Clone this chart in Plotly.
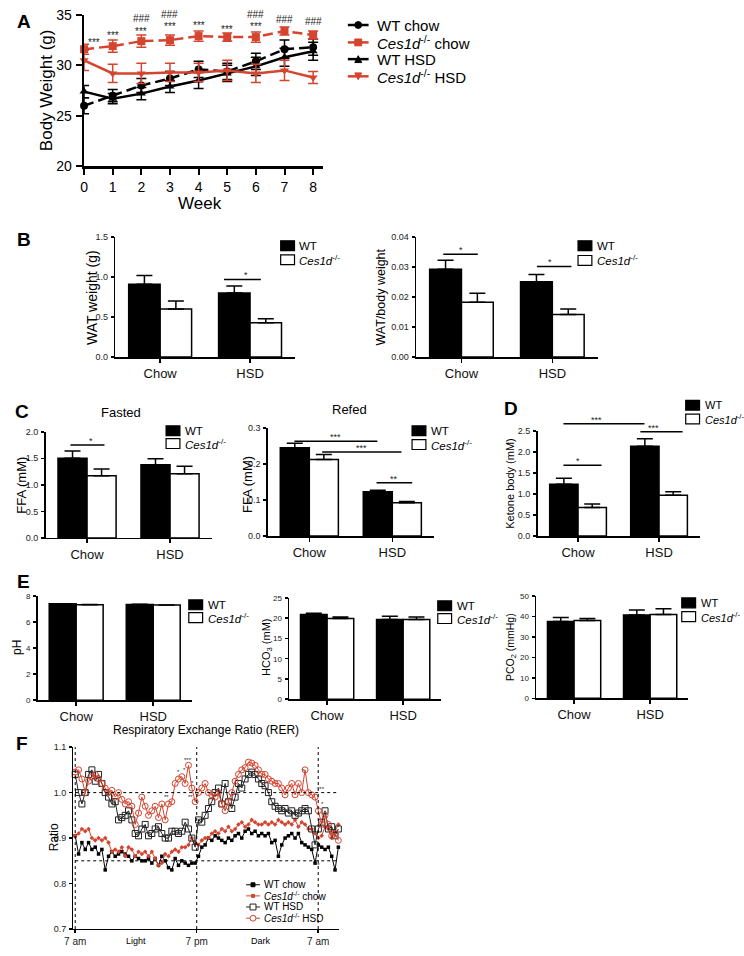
import plotly.graph_objects as go

W, H = 744, 956
RED = "#D4442E"
FONT = "Liberation Sans, Arial, Helvetica, sans-serif"
KO = "<i>Ces1d</i><sup>-/-</sup>"

# ---------------- Panel A: body weight ----------------
weeks = [0, 1, 2, 3, 4, 5, 6, 7, 8]
bw_wt_chow = [26.0, 27.0, 28.0, 28.7, 29.6, 29.4, 30.4, 31.6, 31.8]
bw_wt_chow_sem = [0.8, 0.6, 0.7, 0.7, 0.8, 0.8, 0.8, 0.9, 0.8]
bw_ko_chow = [31.6, 31.9, 32.4, 32.5, 32.9, 32.8, 32.8, 33.4, 33.0]
bw_ko_chow_sem = [0.5, 0.6, 0.6, 0.5, 0.5, 0.4, 0.5, 0.4, 0.4]
bw_wt_hsd = [27.4, 26.7, 27.2, 27.9, 28.5, 29.2, 29.9, 30.8, 31.4]
bw_wt_hsd_sem = [0.6, 0.5, 0.6, 0.6, 0.8, 0.8, 0.9, 0.9, 0.9]
bw_ko_hsd = [30.5, 29.2, 29.2, 29.3, 29.3, 29.5, 29.2, 29.5, 28.8]
bw_ko_hsd_sem = [1.0, 0.9, 1.0, 0.9, 0.9, 1.0, 0.9, 1.0, 0.6]
star_weeks = [0.35, 1, 2, 3, 4, 5, 6]
star_y = [32.3, 33.0, 33.4, 33.8, 33.9, 33.6, 33.8]
hash_weeks = [2, 3, 4, 5, 6, 7, 8]
hash_y = [34.6, 35.0, 35.2, 35.2, 35.0, 34.5, 34.3]

# ---------------- Bar panels ----------------
groups = ["Chow", "HSD"]
wat_wt = [0.91, 0.80]
wat_wt_sem = [0.11, 0.09]
wat_ko = [0.60, 0.43]
wat_ko_sem = [0.10, 0.05]
watbw_wt = [0.0293, 0.0251]
watbw_wt_sem = [0.0030, 0.0024]
watbw_ko = [0.0183, 0.0142]
watbw_ko_sem = [0.0030, 0.0018]
ffa_fasted_wt = [1.50, 1.38]
ffa_fasted_wt_sem = [0.14, 0.11]
ffa_fasted_ko = [1.17, 1.21]
ffa_fasted_ko_sem = [0.13, 0.14]
ffa_refed_wt = [0.245, 0.123]
ffa_refed_wt_sem = [0.012, 0.004]
ffa_refed_ko = [0.212, 0.092]
ffa_refed_ko_sem = [0.014, 0.004]
ketone_wt = [1.23, 2.13]
ketone_wt_sem = [0.14, 0.18]
ketone_ko = [0.68, 0.97]
ketone_ko_sem = [0.08, 0.08]
ph_wt = [7.40, 7.35]
ph_wt_sem = [0.01, 0.01]
ph_ko = [7.33, 7.30]
ph_ko_sem = [0.01, 0.01]
hco3_wt = [20.9, 19.7]
hco3_wt_sem = [0.3, 0.8]
hco3_ko = [19.9, 19.7]
hco3_ko_sem = [0.4, 0.6]
pco2_wt = [37.5, 40.7]
pco2_wt_sem = [2.0, 2.5]
pco2_ko = [38.0, 41.0]
pco2_ko_sem = [1.0, 2.8]

# significance brackets: (x0, x1, y, label) in category / data units
sig_b1 = [(0.71, 1.12, 0.97, "*")]
sig_b2 = [(-0.2, 0.18, 0.0343, "*"), (0.83, 1.21, 0.0302, "*")]
sig_c1 = [(-0.2, 0.21, 1.75, "*")]
sig_c2 = [(-0.18, 0.82, 0.263, "***"), (0.155, 1.11, 0.233, "***"), (0.81, 1.24, 0.148, "**")]
sig_d = [(-0.18, 0.82, 2.67, "***"), (0.77, 1.29, 2.48, "***"), (-0.18, 0.29, 1.68, "*")]

# ---------------- Panel F: RER ----------------
rer_hours = [round(i * 0.329, 3) for i in range(80)]
rer_wt_chow = [0.905, 0.865, 0.89, 0.875, 0.89, 0.875, 0.88, 0.865, 0.875, 0.83,
               0.86, 0.87, 0.86, 0.865, 0.87, 0.865, 0.86, 0.85, 0.86, 0.855,
               0.85, 0.85, 0.855, 0.845, 0.855, 0.84, 0.86, 0.85, 0.835, 0.83,
               0.855, 0.84, 0.85, 0.845, 0.84, 0.845, 0.845, 0.86, 0.88, 0.885,
               0.9, 0.895, 0.905, 0.9, 0.895, 0.89, 0.9, 0.895, 0.905, 0.91,
               0.9, 0.915, 0.92, 0.91, 0.915, 0.905, 0.91, 0.905, 0.91, 0.89,
               0.895, 0.86, 0.885, 0.9, 0.905, 0.91, 0.9, 0.91, 0.89, 0.885,
               0.88, 0.875, 0.845, 0.885, 0.88, 0.875, 0.88, 0.86, 0.83, 0.88]
rer_ko_chow = [0.905, 0.91, 0.92, 0.915, 0.92, 0.9, 0.895, 0.9, 0.895, 0.9,
               0.89, 0.87, 0.875, 0.87, 0.88, 0.86, 0.88, 0.875, 0.86, 0.87,
               0.865, 0.87, 0.86, 0.87, 0.855, 0.84, 0.845, 0.865, 0.86, 0.87,
               0.875, 0.87, 0.88, 0.88, 0.885, 0.9, 0.89, 0.885, 0.895, 0.9,
               0.9, 0.91, 0.915, 0.91, 0.92, 0.915, 0.925, 0.915, 0.92, 0.93,
               0.935, 0.925, 0.93, 0.94, 0.935, 0.93, 0.93, 0.935, 0.93, 0.935,
               0.93, 0.94, 0.935, 0.93, 0.935, 0.93, 0.94, 0.925, 0.935, 0.93,
               0.92, 0.92, 0.91, 0.9, 0.905, 0.925, 0.92, 0.9, 0.915, 0.93]
rer_wt_hsd = [1.04, 1.0, 0.975, 1.0, 1.04, 1.05, 1.025, 1.04, 1.02, 1.0,
              0.99, 0.975, 0.98, 0.94, 0.945, 0.95, 0.96, 0.94, 0.91, 0.905,
              0.92, 0.93, 0.905, 0.91, 0.92, 0.925, 0.91, 0.9, 0.9, 0.915,
              0.915, 0.91, 0.915, 0.935, 0.92, 0.9, 0.88, 0.94, 0.935, 0.95,
              0.965, 0.98, 1.0, 1.01, 0.975, 1.02, 0.98, 0.965, 0.99, 1.02,
              1.01, 1.03, 1.04, 1.045, 1.04, 1.03, 1.02, 1.015, 1.0, 0.98,
              0.97, 0.965, 0.96, 0.965, 0.955, 0.96, 0.95, 0.955, 0.96, 0.965,
              0.96, 0.92, 0.885, 0.92, 0.935, 0.96, 0.92, 0.925, 0.905, 0.92]
rer_ko_hsd = [1.045, 1.05, 1.03, 1.0, 1.025, 1.035, 1.04, 1.03, 1.02, 1.01,
              1.0, 1.005, 0.99, 1.0, 0.985, 0.975, 0.98, 0.97, 0.93, 0.955,
              0.99, 0.97, 0.95, 0.96, 0.97, 0.945, 0.975, 0.94, 0.975, 0.98,
              1.02, 1.03, 1.035, 1.02, 1.06, 1.01, 0.98, 1.0, 1.01, 1.02,
              1.0, 0.995, 0.99, 1.0, 0.975, 0.96, 0.98, 1.0, 1.025, 1.04,
              1.05, 1.055, 1.067, 1.065, 1.06, 1.05, 1.04, 1.04, 1.03, 1.025,
              1.02, 1.02, 1.01, 0.995, 1.01, 1.02, 0.995, 1.02, 1.0, 1.05,
              1.0, 0.995, 0.99, 0.96, 0.93, 0.95, 0.93, 0.905, 0.91, 0.895]
rer_marks = [(11.1, 1.071, "***"), (10.2, 1.046, "*"), (10.75, 1.05, "*"), (11.6, 1.02, "*"),
             (9.05, 0.99, "**"), (11.4, 0.99, "**"), (22.5, 1.047, "*"), (24.3, 1.008, "***"),
             (24.45, 0.974, "*"), (23.9, 0.84, "**"), (25.75, 0.83, "*")]

# ---------------- geometry (pixels) ----------------
GEO = {
    "A": dict(n=1, x=(76, 318), y=(7, 161), xr=(0, 8.35), yr=(20, 35)),
    "B1": dict(n=2, x=(107.5, 289.5), y=(233, 355), xr=(-0.5, 1.5), yr=(0, 1.5)),
    "B2": dict(n=3, x=(412, 596), y=(233, 355), xr=(-0.5, 1.5), yr=(0, 0.04)),
    "C1": dict(n=4, x=(37, 205), y=(431, 539), xr=(-0.5, 1.5), yr=(0, 2.0)),
    "C2": dict(n=5, x=(262, 430), y=(427, 537), xr=(-0.5, 1.5), yr=(0, 0.3)),
    "D": dict(n=6, x=(535, 699), y=(430, 537), xr=(-0.5, 1.5), yr=(0, 2.5)),
    "E1": dict(n=7, x=(29, 185), y=(598, 704), xr=(-0.5, 1.5), yr=(0, 8)),
    "E2": dict(n=8, x=(283.5, 437.5), y=(600, 703), xr=(-0.5, 1.5), yr=(0, 25)),
    "E3": dict(n=9, x=(533.5, 687.5), y=(598, 702), xr=(-0.5, 1.5), yr=(0, 50)),
    "F": dict(n=10, x=(65, 334), y=(751.7, 936.7), xr=(-0.2, 26.05), yr=(0.7, 1.1)),
}


def names(n):
    if n == 1:
        return "xaxis", "yaxis", "x", "y"
    return f"xaxis{n}", f"yaxis{n}", f"x{n}", f"y{n}"


def xp(g, v):
    l, r = g["x"]
    lo, hi = g["xr"]
    return (l + (v - lo) / (hi - lo) * (r - l)) / W


def yp(g, v):
    t, b = g["y"]
    lo, hi = g["yr"]
    return 1 - (b - (v - lo) / (hi - lo) * (b - t)) / H


fig = go.Figure()
layout = {}
shapes = []
ann = []


def text(x, y, s, size, bold=False, angle=0, xanchor="center", yanchor="middle", color="black"):
    ann.append(dict(x=x / W, y=1 - y / H, xref="paper", yref="paper", text=f"<b>{s}</b>" if bold else s,
                    showarrow=False, textangle=angle, xanchor=xanchor, yanchor=yanchor,
                    font=dict(family=FONT, size=size, color=color)))


# axes
for key, g in GEO.items():
    xk, yk, xa, ya = names(g["n"])
    layout[xk] = dict(domain=[g["x"][0] / W, g["x"][1] / W], range=list(g["xr"]), anchor=ya,
                      showgrid=False, zeroline=False, showline=True, linecolor="black",
                      linewidth=1.5, ticks="outside", ticklen=4, tickwidth=1.5, tickcolor="black",
                      tickfont=dict(family=FONT, size=13, color="#111"), fixedrange=True)
    layout[yk] = dict(domain=[1 - g["y"][1] / H, 1 - g["y"][0] / H], range=list(g["yr"]), anchor=xa,
                      showgrid=False, zeroline=False, showline=True, linecolor="black",
                      linewidth=1.5, ticks="outside", ticklen=3, tickwidth=1.5, tickcolor="black",
                      ticklabelstandoff=1,
                      tickfont=dict(family=FONT, size=9, color="#222"), fixedrange=True)

# ---- Panel A ----
layout["xaxis"].update(tickmode="array", tickvals=weeks, linewidth=2.5, tickwidth=2, ticklen=6,
                       tickfont=dict(family=FONT, size=14, color="black"))
layout["yaxis"].update(tickvals=[20, 25, 30, 35], linewidth=2.5, tickwidth=2, ticklen=6,
                       tickfont=dict(family=FONT, size=14, color="black"))

a_series = [
    (bw_wt_chow, bw_wt_chow_sem, "black", "10px,5px", "circle"),
    (bw_wt_hsd, bw_wt_hsd_sem, "black", "solid", "triangle-up"),
    (bw_ko_hsd, bw_ko_hsd_sem, RED, "solid", "triangle-down"),
    (bw_ko_chow, bw_ko_chow_sem, RED, "10px,5px", "square"),
]
for vals, sem, col, dash, sym in a_series:
    fig.add_trace(go.Scatter(x=weeks, y=vals, mode="lines+markers", xaxis="x", yaxis="y",
                             line=dict(color=col, width=2.5, dash=dash),
                             marker=dict(symbol=sym, size=8, color=col),
                             error_y=dict(type="data", array=sem, color=col, thickness=1.5, width=5),
                             cliponaxis=False, showlegend=False))
for w, yv in zip(star_weeks, star_y):
    ann.append(dict(x=w, y=yv, xref="x", yref="y", text="***", showarrow=False,
                    font=dict(family=FONT, size=10, color="#222")))
for w, yv in zip(hash_weeks, hash_y):
    ann.append(dict(x=w, y=yv, xref="x", yref="y", text="###", showarrow=False,
                    font=dict(family=FONT, size=10, color="#222")))

text(38, 84, "Body Weight (g)", 17, angle=-90)
text(193, 199, "Week", 17)


def key(xl, xr, y, color, dash, symbol, size, filled, lw):
    shapes.append(dict(type="line", xref="paper", yref="paper", x0=xl / W, x1=xr / W,
                       y0=1 - y / H, y1=1 - y / H, line=dict(color=color, width=lw, dash=dash)))
    cx = (xl + xr) / 2
    h = size / 2
    fill = color if filled else "white"
    if symbol == "circle":
        shapes.append(dict(type="circle", xref="paper", yref="paper", x0=(cx - h) / W, x1=(cx + h) / W,
                           y0=1 - (y + h) / H, y1=1 - (y - h) / H, fillcolor=fill,
                           line=dict(color=color, width=1)))
    elif symbol == "square":
        shapes.append(dict(type="rect", xref="paper", yref="paper", x0=(cx - h) / W, x1=(cx + h) / W,
                           y0=1 - (y + h) / H, y1=1 - (y - h) / H, fillcolor=fill,
                           line=dict(color=color, width=1)))
    else:
        s = -1 if symbol == "up" else 1
        p = (f"M {cx / W},{1 - (y + s * h) / H} L {(cx + h) / W},{1 - (y - s * h) / H} "
             f"L {(cx - h) / W},{1 - (y - s * h) / H} Z")
        shapes.append(dict(type="path", xref="paper", yref="paper", path=p, fillcolor=fill,
                           line=dict(color=color, width=1)))


# legend A
a_leg = [("WT chow", "black", "circle", 17.3),
         (KO + " chow", RED, "square", 35),
         ("WT HSD", "black", "up", 52),
         (KO + " HSD", RED, "down", 69.5)]
for lab, col, sym, yy in a_leg:
    key(343, 364, yy, col, "solid", sym, 7, True, 2.5)
    text(370, yy, lab, 15, xanchor="left")

# ---- bar panels ----
def bar_panel(g, wt, wt_sem, ko, ko_sem, dtick, fmt, sigs, leg, ytitle, ytitle_pos, ytitle_size,
              tickfont=9, catfont=13, legfont=11.5):
    xk, yk, xa, ya = names(g["n"])
    layout[xk].update(type="category", tickfont=dict(family=FONT, size=catfont, color="#111"))
    layout[yk].update(dtick=dtick, tickformat=fmt, tickfont=dict(family=FONT, size=tickfont, color="#222"))
    for vals, sem, col, og in ((wt, wt_sem, "black", "wt"), (ko, ko_sem, "white", "ko")):
        fig.add_trace(go.Bar(x=groups, y=vals, offsetgroup=og, xaxis=xa, yaxis=ya,
                             marker=dict(color=col, line=dict(color="black", width=1.5)),
                             error_y=dict(type="data", symmetric=False, array=sem,
                                          arrayminus=[0] * len(sem), color="black",
                                          thickness=1.5, width=8),
                             cliponaxis=False, showlegend=False))
    for x0, x1, yv, lab in sigs:
        shapes.append(dict(type="line", xref="paper", yref="paper", x0=xp(g, x0), x1=xp(g, x1),
                           y0=yp(g, yv), y1=yp(g, yv), line=dict(color="black", width=1.5)))
        ann.append(dict(x=(xp(g, x0) + xp(g, x1)) / 2, y=yp(g, yv), xref="paper", yref="paper",
                        text=lab, showarrow=False, yanchor="bottom", yshift=-3,
                        font=dict(family=FONT, size=9, color="#222")))
    lx, ly1, ly2 = leg
    shapes.append(dict(type="rect", xref="paper", yref="paper", x0=lx / W, x1=(lx + 14) / W,
                       y0=1 - (ly1 + 5) / H, y1=1 - (ly1 - 5) / H, fillcolor="black",
                       line=dict(color="black", width=1.2)))
    shapes.append(dict(type="rect", xref="paper", yref="paper", x0=lx / W, x1=(lx + 14) / W,
                       y0=1 - (ly2 + 5) / H, y1=1 - (ly2 - 5) / H, fillcolor="white",
                       line=dict(color="black", width=1.2)))
    text(lx + 17, ly1, "WT", legfont, xanchor="left")
    text(lx + 17, ly2, KO, legfont, xanchor="left")
    text(ytitle_pos[0], ytitle_pos[1], ytitle, ytitle_size, angle=-90)


bar_panel(GEO["B1"], wat_wt, wat_wt_sem, wat_ko, wat_ko_sem, 0.5, ".1f", sig_b1,
          (275, 241.7, 256), "WAT weight (g)", (84, 294), 14)
bar_panel(GEO["B2"], watbw_wt, watbw_wt_sem, watbw_ko, watbw_ko_sem, 0.01, ".2f", sig_b2,
          (576, 241.7, 256.7), "WAT/body weight", (377, 294), 12.5)
bar_panel(GEO["C1"], ffa_fasted_wt, ffa_fasted_wt_sem, ffa_fasted_ko, ffa_fasted_ko_sem, 0.5, ".1f",
          sig_c1, (159, 430, 443), "FFA (mM)", (13, 485), 13)
bar_panel(GEO["C2"], ffa_refed_wt, ffa_refed_wt_sem, ffa_refed_ko, ffa_refed_ko_sem, 0.1, ".1f",
          sig_c2, (408, 430, 444), "FFA (mM)", (242, 485), 13)
bar_panel(GEO["D"], ketone_wt, ketone_wt_sem, ketone_ko, ketone_ko_sem, 0.5, ".1f", sig_d,
          (685, 404, 418), "Ketone body (mM)", (507, 484), 11, legfont=11)
bar_panel(GEO["E1"], ph_wt, ph_wt_sem, ph_ko, ph_ko_sem, 2, "d", [],
          (182, 607, 620), "pH", (8, 650), 12, tickfont=8)
bar_panel(GEO["E2"], hco3_wt, hco3_wt_sem, hco3_ko, hco3_ko_sem, 5, "d", [],
          (434, 608, 621), "HCO<sub>3</sub> (mM)", (261, 650), 11, tickfont=8)
bar_panel(GEO["E3"], pco2_wt, pco2_wt_sem, pco2_ko, pco2_ko_sem, 10, "d", [],
          (681, 605, 619), "PCO<sub>2</sub> (mmHg)", (508, 650), 10.5, tickfont=8, legfont=11)

text(113, 411, "Fasted", 13)
text(345, 408, "Refed", 13)

# ---- Panel F ----
layout["xaxis10"].update(tickmode="array", tickvals=[0, 12, 24], ticktext=["7 am", "7 pm", "7 am"],
                         tickfont=dict(family=FONT, size=10, color="#222"), linewidth=1.2, ticklen=3)
layout["yaxis10"].update(dtick=0.1, tickformat=".1f", tickfont=dict(family=FONT, size=9, color="#222"),
                         linewidth=1.2, ticklen=3)
f_series = [
    (rer_wt_chow, "black", dict(symbol="square", size=3.5, color="black")),
    (rer_ko_chow, RED, dict(symbol="diamond", size=3.5, color=RED)),
    (rer_wt_hsd, "#222", dict(symbol="square-open", size=6, color="#222", line=dict(width=1))),
    (rer_ko_hsd, RED, dict(symbol="circle-open", size=6, color=RED, line=dict(width=1))),
]
for vals, col, mk in f_series:
    fig.add_trace(go.Scatter(x=rer_hours[:len(vals)], y=vals, mode="lines+markers", xaxis="x10", yaxis="y10",
                             line=dict(color=col, width=1), marker=mk, cliponaxis=False, showlegend=False))
for hv in (0, 12, 24):
    shapes.append(dict(type="line", xref="x10", yref="y10", x0=hv, x1=hv, y0=0.7, y1=1.1,
                       line=dict(color="black", width=1, dash="dot")))
for yv in (1.0, 0.85):
    shapes.append(dict(type="line", xref="x10", yref="y10", x0=0, x1=26.05, y0=yv, y1=yv,
                       line=dict(color="black", width=1, dash="dot")))
for hx, yv, lab in rer_marks:
    ann.append(dict(x=hx, y=yv, xref="x10", yref="y10", text=lab, showarrow=False,
                    font=dict(family=FONT, size=6, color="#222")))
text(199, 734, "Respiratory Exchange Ratio (RER)", 12)
text(45, 843, "Ratio", 12, angle=-90)
text(129, 949, "Light", 9)
text(255, 949, "Dark", 9)
f_leg = [("WT chow", "black", "square", 4, True, 891.7),
         (KO + " chow", RED, "square", 3, True, 903),
         ("WT HSD", "#222", "square", 6, False, 914.3),
         (KO + " HSD", RED, "circle", 6, False, 925.7)]
for lab, col, sym, sz, filled, yy in f_leg:
    key(240, 254, yy, col, "solid", sym, sz, filled, 1)
    text(256, yy, lab, 10, xanchor="left")

# panel letters
for lab, x, y in (("A", 15, 14), ("B", 15, 235), ("C", 13, 410), ("D", 508, 407), ("E", 15, 583),
                  ("F", 13, 748)):
    text(x, y, lab, 19, bold=True)

fig.update_layout(autosize=True, margin=dict(l=0, r=0, t=0, b=0),
                  paper_bgcolor="white", plot_bgcolor="white", barmode="group", bargap=0.3,
                  bargroupgap=0, showlegend=False, shapes=shapes, annotations=ann,
                  font=dict(family=FONT, color="black"), **layout)
fig.write_html("out.html", config={"displayModeBar": False, "staticPlot": True, "responsive": False},
               default_width="744px;position:absolute;left:0;top:0;margin:0",
               default_height="956px")
